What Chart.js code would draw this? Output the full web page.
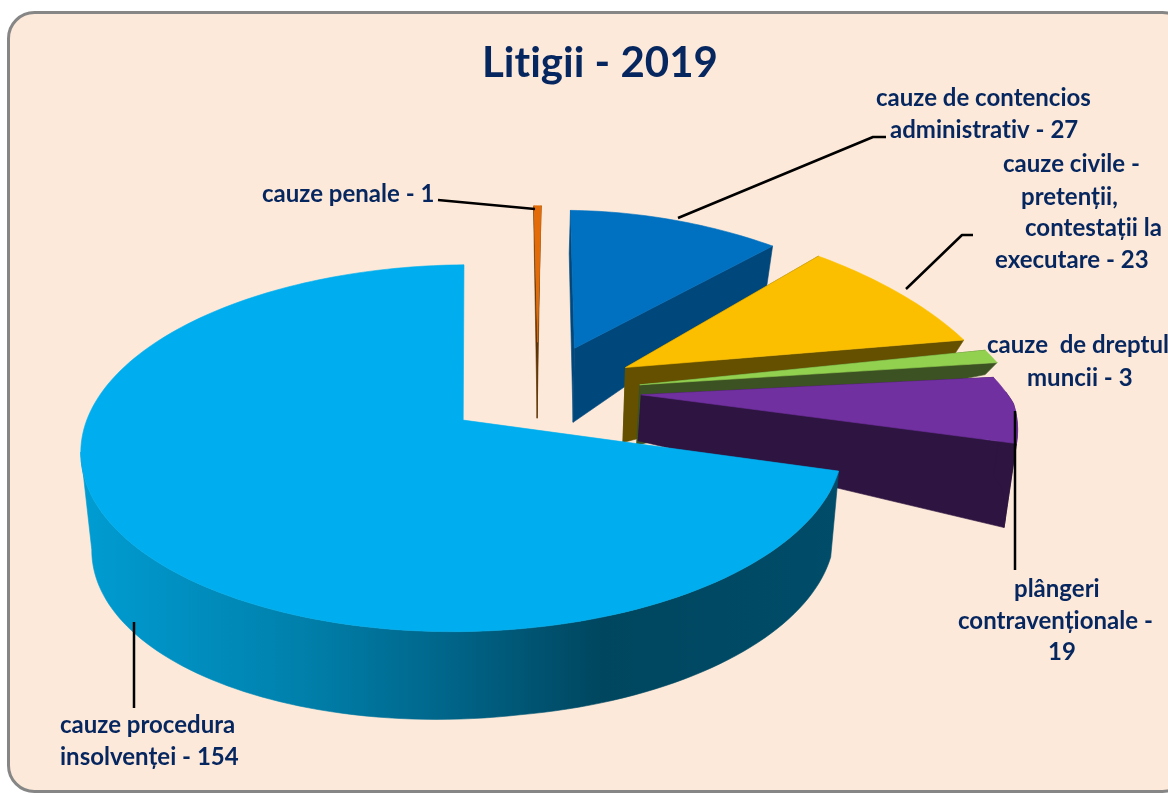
<!DOCTYPE html>
<html><head><meta charset="utf-8">
<style>html,body{margin:0;padding:0;background:#fff;overflow:hidden}canvas{display:block}</style>
<script src="https://cdn.jsdelivr.net/npm/chart.js@4"></script>
</head><body><canvas id="c" width="1200" height="820"></canvas>
<script>
const categories=['cauze penale','cauze de contencios administrativ','cauze civile - pretenții, contestații la executare','cauze de dreptul muncii','plângeri contravenționale','cauze procedura insolvenței'];
const values=[1,27,23,3,19,154];
const topColors=['#E36C09','#0070C0','#FCBF00','#92D050','#7030A0','#00AEEF'];
const sideColors=['#5C3000','#00477C','#655000','#3D5222','#2E1440',null];
const sliceOffsets=[74,72,66,64,66,36];
const labelLines=[['cauze penale - {v}'],['cauze de contencios','administrativ - {v}'],['cauze civile -','pretenții,','contestații la','executare - {v}'],['cauze  de dreptul','muncii - {v}'],['plângeri','contravenționale -','{v}'],['cauze procedura','insolvenței - {v}']];
const titleText='Litigii - 2019';

const view={cx:520.6,cy:403.2,b:371,a:174,s:0.151,taper:0.975,backNarrow:0.1,leftDepthBoost:0.12};
const apexDepth=[76,74,75,60,46,86];
const rimDepth=[2,43,17,12,84,86];
const nudgeU=[0.045,0.017,0.005,0.012,0.005,0];
const nudgeV=[0,0,0.06,0.07,0.11,0];
const rimStretchU=[1,1.03,1.03,1.04,1,1];
const rimStretchV=[1,1,1.06,1.3,1,1];
const radialWalls=[1,1,1,1,1,0];
const labelAnchors=[[[262,202]],[[876,106],[890,138]],[[1003,172],[1021,205],[1025,236],[995,268]],[[987,353],[1027,386]],[[1014,597],[958,629],[1048,660]],[[60,733],[60,765]]];
const leaders=[[[438,200],[535,209]],[[678,218],[873,137],[886,137]],[[906,289],[962,235],[973,235]],[[1015,411],[1015,570]],[[134,622],[134,708]]];

function project(u,v){const k=1/(1+view.s*v);
 const kx=u>0?k*(1-view.backNarrow*Math.max(v,0)):k;
 return{x:view.cx+view.b*u*kx,y:view.cy-view.a*v*k};}
// small easing of rim angles so the wedge edges sit as drawn in the source picture
function warp(a){const d=(a+Math.PI/2)*180/Math.PI; // degrees clockwise from 12 o'clock
 let b=0; if(d>80&&d<=116)b=(d-80)/36*10; else if(d>116&&d<200)b=(200-d)/84*10;
 else if(d>340)b=(d-340)/20*1.2;
 return a-b*Math.PI/180;}
const pie3d={id:'pie3d',
 beforeDraw(chart){const g=chart.ctx;g.save();g.fillStyle='#fff';g.fillRect(0,0,chart.width,chart.height);
  g.beginPath();g.roundRect(8.5,12.5,1180,779,26);g.fillStyle='#FDE9D9';g.fill();g.lineWidth=3;g.strokeStyle='#868686';g.stroke();g.restore();
  g.letterSpacing='0.01px';},
 beforeDatasetDraw(chart,args){
  const g=chart.ctx,meta=args.meta;g.save();
  const grad=g.createLinearGradient(85,0,835,0);
  [[0,'#009CD2'],[.29,'#0080AB'],[.49,'#006488'],[.69,'#00465F'],[1,'#004C69']].forEach(s=>grad.addColorStop(s[0],s[1]));
  meta.data.forEach((el,i)=>{
   const e=el.options.offset/el.outerRadius,mid=(el.startAngle+el.endAngle)/2;
   const ou=Math.cos(mid)*e+nudgeU[i],ov=-Math.sin(mid)*e+nudgeV[i];
   const n=Math.max(4,Math.ceil((el.endAngle-el.startAngle)*40));
   const pts=[];let front=[];const a0=project(ou,ov);a0.d=apexDepth[i];
   for(let j=0;j<=n;j++){const a=warp(el.startAngle+(el.endAngle-el.startAngle)*j/n);
     const lv=-Math.sin(a),pu=ou+Math.cos(a)*rimStretchU[i];
     const p=project(pu,ov+lv*rimStretchV[i]);
     p.d=rimDepth[i]*(1+(radialWalls[i]?0:view.leftDepthBoost*Math.max(-pu,0)));pts.push(p);
     if(lv<=0.02)front.push(p);}
   if(!radialWalls[i]&&front.length){ // the rim wall stops at the silhouette's leftmost point
     let m=0;front.forEach((p,j)=>{if(p.x<front[m].x)m=j;});front=front.slice(0,m+1);}
   const low=p=>({x:view.cx+(p.x-view.cx)*view.taper,y:p.y+p.d});
   const side=sideColors[i]||grad;
   g.fillStyle=side;g.strokeStyle=side;g.lineWidth=.6;
   const poly=list=>{g.beginPath();list.forEach((p,j)=>j?g.lineTo(p.x,p.y):g.moveTo(p.x,p.y));g.closePath();g.fill();g.stroke();};
   if(radialWalls[i]){[[a0,pts[0]],[pts[pts.length-1],a0]].forEach(([p,q])=>poly([p,q,low(q),low(p)]));}
   if(front.length>1){poly([...front,...front.slice().reverse().map(low)]);}
   g.fillStyle=el.options.backgroundColor;g.strokeStyle=el.options.backgroundColor;
   poly([a0,...pts]);
  });
  g.restore();return false;},
 afterDraw(chart){const g=chart.ctx;g.save();
  g.strokeStyle='#000';g.lineWidth=2.5;g.lineJoin='round';
  leaders.forEach(l=>{g.beginPath();l.forEach((p,j)=>j?g.lineTo(p[0],p[1]):g.moveTo(p[0],p[1]));g.stroke();});
  g.fillStyle='#06265F';g.font='bold 24px Lato';g.textAlign='left';g.textBaseline='alphabetic';
  labelLines.forEach((lines,i)=>lines.forEach((t,j)=>g.fillText(t.replace('{v}',values[i]),labelAnchors[i][j][0],labelAnchors[i][j][1])));
  g.restore();}
};
new Chart(document.getElementById('c'),{type:'pie',
 data:{labels:categories,datasets:[{data:values,backgroundColor:topColors,offset:sliceOffsets,radius:200,borderWidth:0}]},
 options:{responsive:false,animation:false,
  plugins:{legend:{display:false},tooltip:{enabled:false},
   title:{display:true,text:titleText,color:'#06265F',font:{family:'Lato',size:42,weight:'bold'},padding:{top:38,bottom:10}}}},
 plugins:[pie3d]});
</script></body></html>
